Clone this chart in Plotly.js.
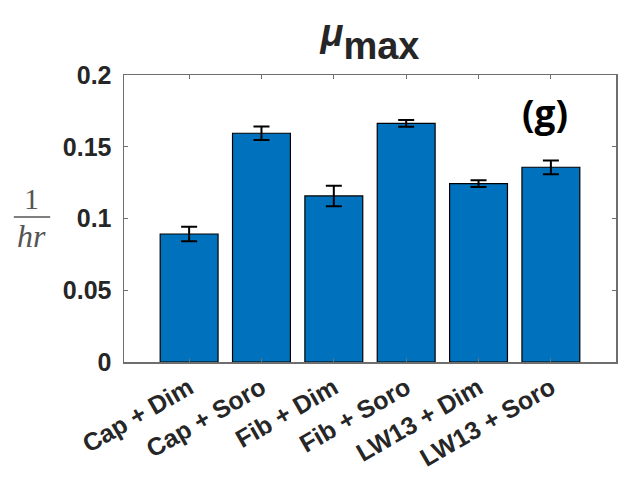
<!DOCTYPE html>
<html>
<head>
<meta charset="utf-8">
<script src="https://cdn.plot.ly/plotly-3.0.1.min.js"></script>
<style>html,body{margin:0;padding:0;background:#fff;}#chart{width:628px;height:483px;}</style>
</head>
<body>
<div id="chart"></div>
<script>
const categories = ["Cap + Dim", "Cap + Soro", "Fib + Dim", "Fib + Soro", "LW13 + Dim", "LW13 + Soro"];
const muMax = [0.0892, 0.1594, 0.1157, 0.1663, 0.1243, 0.1357];
const muErr = [0.0050, 0.0047, 0.0072, 0.0023, 0.0023, 0.0048];
const yTickVals = [0, 0.05, 0.1, 0.15, 0.2];
const yTickText = ["0", "0.05", "0.1", "0.15", "0.2"];
const positions = categories.map((c, i) => i + 1);

const axisColor = "#6e6e6e";
const textColor = "#262626";
const yTickFont = {family: "Liberation Sans, Arial, sans-serif", size: 25, color: textColor};
const xTickFont = {family: "Liberation Sans, Arial, sans-serif", size: 25, color: textColor};

const trace = {
  type: "bar",
  x: positions,
  y: muMax,
  width: 0.8,
  marker: {color: "#0072BD", line: {color: "#000000", width: 1.2}},
  error_y: {type: "data", array: muErr, visible: true, color: "#000000", thickness: 2, width: 8},
  hoverinfo: "skip"
};

const layout = {
  width: 628, height: 483,
  margin: {l: 124, r: 12, t: 75, b: 121},
  paper_bgcolor: "#ffffff", plot_bgcolor: "#ffffff",
  showlegend: false,
  title: {
    text: '<b><span style="font-size:38px"><i>μ</i></span><sub><span style="font-size:38px">max</span></sub></b>',
    font: {family: "Liberation Sans, Arial, sans-serif", size: 64, color: textColor},
    x: 0.5, xanchor: "center", xref: "paper",
    y: 0.952, yanchor: "middle"
  },
  xaxis: {
    range: [0.1, 6.9],
    tickvals: positions,
    ticktext: categories.map(c => "<b>" + c + "</b>"),
    tickangle: -30,
    tickfont: xTickFont,
    ticks: "inside", ticklen: 4, tickcolor: axisColor, tickwidth: 1,
    showline: true, linecolor: axisColor, linewidth: 1.5, mirror: "ticks",
    showgrid: false, zeroline: false, fixedrange: true
  },
  yaxis: {
    range: [0, 0.2],
    tickvals: yTickVals,
    ticktext: yTickText.map(t => "<b>" + t + "</b>"),
    tickfont: yTickFont,
    ticklabelstandoff: 6,
    ticks: "inside", ticklen: 4, tickcolor: axisColor, tickwidth: 1,
    showline: true, linecolor: axisColor, linewidth: 1.5, mirror: "ticks",
    showgrid: false, zeroline: false, fixedrange: true
  },
  annotations: [
    {text: "1", xref: "paper", yref: "paper", x: -0.187, y: 0.505, xanchor: "center", yanchor: "bottom",
     showarrow: false, font: {family: "Liberation Serif, serif", size: 30, color: "#555555"}},
    {text: "<i>hr</i>", xref: "paper", yref: "paper", x: -0.187, y: 0.508, xanchor: "center", yanchor: "top",
     showarrow: false, font: {family: "Liberation Serif, serif", size: 32, color: "#555555"}},
    {text: "<b>(g)</b>", xref: "paper", yref: "paper", x: 0.856, y: 0.868, xanchor: "center", yanchor: "middle",
     showarrow: false, font: {family: "Open Sans, sans-serif", size: 37, color: "#000000"}}
  ],
  shapes: [
    {type: "line", xref: "paper", yref: "paper", x0: -0.224, x1: -0.150, y0: 0.505, y1: 0.505,
     line: {color: "#555555", width: 1.5}}
  ]
};

Plotly.newPlot("chart", [trace], layout, {staticPlot: true, displayModeBar: false});
</script>
</body>
</html>
